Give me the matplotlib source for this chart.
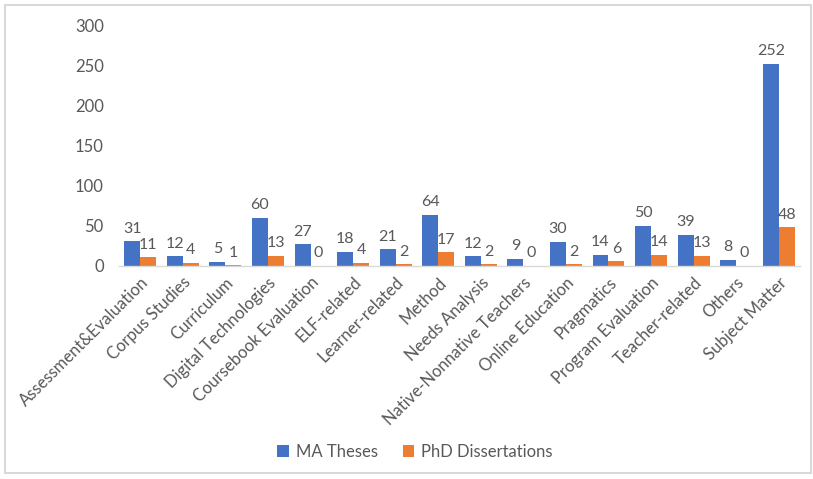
import matplotlib
matplotlib.use("Agg")
import matplotlib.pyplot as plt
import numpy as np
from matplotlib.patches import Rectangle

categories = ["Assessment&Evaluation", "Corpus Studies", "Curriculum", "Digital Technologies",
              "Coursebook Evaluation", "ELF-related", "Learner-related", "Method", "Needs Analysis",
              "Native-Nonnative Teachers", "Online Education", "Pragmatics", "Program Evaluation",
              "Teacher-related", "Others", "Subject Matter"]
ma_theses = [31, 12, 5, 60, 27, 18, 21, 64, 12, 9, 30, 14, 50, 39, 8, 252]
phd_dissertations = [11, 4, 1, 13, 0, 4, 2, 17, 2, 0, 2, 6, 14, 13, 0, 48]
series_names = ["MA Theses", "PhD Dissertations"]
y_ticks = [0, 50, 100, 150, 200, 250, 300]

plt.rcParams['font.family'] = ['Lato', 'DejaVu Sans']
text_color = "#595959"
blue = "#4472C4"
orange = "#ED7D31"

fig = plt.figure(figsize=(8.13, 4.79), dpi=100)
ax = fig.add_axes([119 / 813, 1 - 266 / 479, (800 - 119) / 813, (266 - 25) / 479])

x = np.arange(len(categories))
w = 0.375
b1 = ax.bar(x - w / 2, ma_theses, w, color=blue, label=series_names[0])
b2 = ax.bar(x + w / 2, phd_dissertations, w, color=orange, label=series_names[1])

for bars, vals in ((b1, ma_theses), (b2, phd_dissertations)):
    for rect, v in zip(bars, vals):
        ax.annotate(str(v), (rect.get_x() + rect.get_width() / 2, v),
                    xytext=(0, 4), textcoords="offset points",
                    ha="center", va="bottom", fontsize=11.5, color=text_color)

ax.set_xlim(-0.5, len(categories) - 0.5)
ax.set_ylim(0, 300)
ax.set_yticks(y_ticks)
ax.set_yticklabels([str(t) for t in y_ticks], fontsize=12, color=text_color)
ax.set_xticks(x)
ax.set_xticklabels(categories, rotation=45, ha="right", rotation_mode="anchor",
                   fontsize=12, color=text_color)
ax.tick_params(axis="both", length=0)
ax.tick_params(axis="y", pad=11)
ax.tick_params(axis="x", pad=6)
for s in ("top", "right", "left"):
    ax.spines[s].set_visible(False)
ax.spines["bottom"].set_color("#D9D9D9")
ax.spines["bottom"].set_linewidth(1.0)

leg = fig.legend(handles=[b1, b2], labels=series_names, loc="center",
                 bbox_to_anchor=(415 / 813, 1 - 452 / 479), ncol=2, frameon=False,
                 fontsize=12, handlelength=0.7, handleheight=0.7, handletextpad=0.4,
                 columnspacing=1.5)
for t in leg.get_texts():
    t.set_color(text_color)

fig.patches.append(Rectangle((5 / 813, 1 - 473 / 479), 806 / 813, 468 / 479,
                             transform=fig.transFigure, fill=False,
                             edgecolor="#D9D9D9", linewidth=1.5))

fig.savefig("out.png", dpi=100)
